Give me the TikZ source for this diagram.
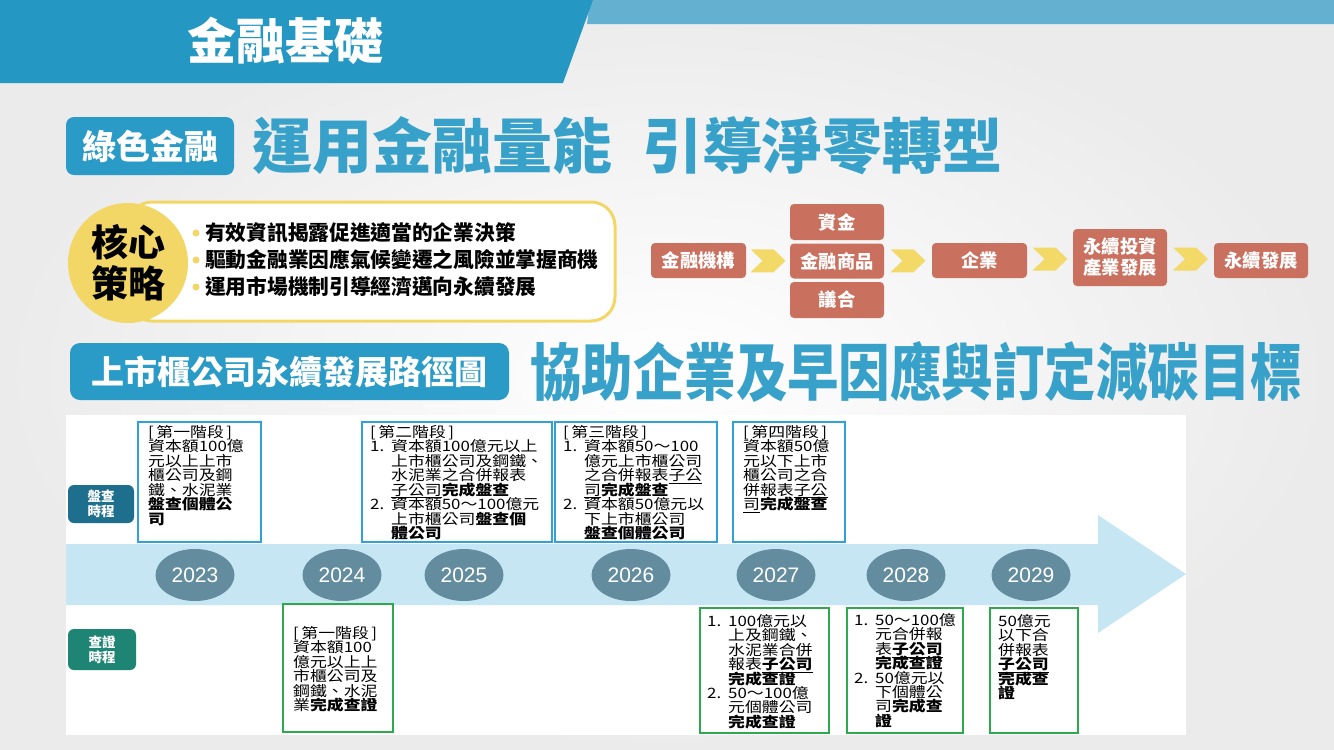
\documentclass[tikz,border=0pt]{standalone}
\usepackage{fontspec}
\usepackage{graphicx}
\usetikzlibrary{shapes.geometric,calc}
\setmainfont{Noto Sans CJK TC}
\newfontfamily\cjk{Noto Sans CJK TC}
\newfontfamily\cjkn[FakeStretch=0.83]{Noto Sans CJK TC}
\newfontfamily\tlfont[FakeStretch=1.18]{Noto Sans CJK TC}
\newfontfamily\numfont{Liberation Sans}
\definecolor{hdrblue}{HTML}{2497C3}
\definecolor{hdrlight}{HTML}{64B0D1}
\definecolor{tagblue}{HTML}{2A9AC6}
\definecolor{titleblue}{HTML}{38A1CA}
\definecolor{ylw}{HTML}{F2D766}
\definecolor{salmon}{HTML}{C9705F}
\definecolor{chev}{HTML}{F2D968}
\definecolor{band}{HTML}{C7E6F3}
\definecolor{yearc}{HTML}{638D9F}
\definecolor{stblue}{HTML}{2EA2D9}
\definecolor{stgreen}{HTML}{2FA94E}
\definecolor{labA}{HTML}{1E6E8E}
\definecolor{labB}{HTML}{1E8473}
\definecolor{bgc}{HTML}{EBEBEB}
\newcommand{\itm}[1]{\makebox[21pt][l]{#1}}
\newcommand{\ind}{\hspace*{21pt}}
\newcommand{\stg}[1]{[\hspace{2.5pt}#1\hspace{2.5pt}]}
\tikzset{
  flowbox/.style={fill=salmon, rounded corners=4pt, minimum width=95pt, minimum height=35pt, inner sep=0pt,
    text=white, align=center, font=\cjk\bfseries\fontsize{18.3}{21}\selectfont},
  chevshape/.style={fill=chev},
  yearnode/.style={ellipse, fill=yearc, minimum width=79pt, minimum height=52pt, inner sep=0pt,
    text=white, font=\numfont\fontsize{21}{21}\selectfont},
  stagebox/.style={draw=stblue, line width=2.5pt, fill=white, inner sep=0pt},
  checkbox/.style={draw=stgreen, line width=2.5pt, fill=white, inner sep=0pt},
  tltext/.style={anchor=north west, inner sep=0pt, align=left, text=black,
    font={\tlfont\fontsize{14.3}{14.45}\selectfont\lineskiplimit=-20pt\lineskip=0pt}},
  labbox/.style={rounded corners=6pt, inner sep=0pt, text=white, align=center,
    font=\cjk\bfseries\fontsize{13.5}{15}\selectfont},
  bullettext/.style={anchor=west, inner sep=0pt, font=\cjk\bfseries\fontsize{20.7}{22}\selectfont}
}
\begin{document}
\begin{tikzpicture}[x=1pt,y=-1pt]
\useasboundingbox (0,0) rectangle (1334,750);
% background
\shade[inner color=white, outer color=bgc] (0,0) rectangle (1334,750);
% header
\fill[hdrlight] (590,0) -- (1334,0) -- (1334,24) -- (587,24) -- cycle;
\fill[hdrblue] (0,0) -- (593,0) -- (563,83) -- (0,83) -- cycle;
\node[text=white, font=\cjk\bfseries\fontsize{49}{49}\selectfont, inner sep=0pt] (hdr) at (285,41) {金融基礎};
% green finance tag and title
\node[fill=tagblue, rounded corners=8pt, minimum width=168pt, minimum height=58pt, inner sep=0pt,
  text=white, font=\cjk\bfseries\fontsize{34}{34}\selectfont] (tag1) at (150,146) {綠色金融};
\node[anchor=west, inner sep=0pt, text=titleblue, font=\cjk\bfseries\fontsize{60}{60}\selectfont] (title1) at (252,146) {運用金融量能\hspace{30pt}引導淨零轉型};
% core strategy
\draw[draw=ylw, line width=3pt, fill=white, rounded corners=24pt] (128,202) rectangle (615,321);
\node[circle, fill=ylw, minimum size=120pt, inner sep=0pt, align=center,
  font=\cjk\bfseries\fontsize{37}{41}\selectfont] (core) at (128,263) {核心\\策略};
\fill[ylw] (196,233) circle (3.5pt);
\fill[ylw] (196,260) circle (3.5pt);
\fill[ylw] (196,287) circle (3.5pt);
\node[bullettext] (b1) at (205,233) {有效資訊揭露促進適當的企業決策};
\node[bullettext] (b2) at (205,260) {驅動金融業因應氣候變遷之風險並掌握商機};
\node[bullettext] (b3) at (205,287) {運用市場機制引導經濟邁向永續發展};
% flow
\node[flowbox] (f1) at (698.5,260.5) {金融機構};
\node[flowbox, minimum width=94pt, minimum height=36pt] (f2a) at (837,222) {資金};
\node[flowbox, minimum width=94pt] (f2) at (837,261) {金融商品};
\node[flowbox, minimum width=94pt, minimum height=36pt] (f2b) at (837,300) {議合};
\node[flowbox] (f3) at (979.5,260.5) {企業};
\node[flowbox, minimum width=94pt, minimum height=57pt] (f4) at (1120,257.5) {永續投資\\產業發展};
\node[flowbox, minimum width=94pt] (f5) at (1261,260.5) {永續發展};
\foreach \a/\b in {f1/f2, f2/f3, f3/f4, f4/f5}{
  \fill[chevshape] ($(\a.east)!0.5!(\b.west)$) ++(-17.5,-11.5) -- ++(23,0) -- ++(12,11.5) -- ++(-12,11.5) -- ++(-23,0) -- ++(12,-11.5) -- cycle;
}
% roadmap tag and title
\node[fill=tagblue, rounded corners=10pt, minimum width=439pt, minimum height=57pt, inner sep=0pt,
  text=white, font=\cjk\bfseries\fontsize{33}{33}\selectfont] (tag2) at (289.5,371.5) {上市櫃公司永續發展路徑圖};
\node[anchor=west, inner sep=0pt, text=titleblue, font=\cjkn\bfseries\fontsize{62}{62}\selectfont] (title2) at (530,372) {協助企業及早因應與訂定減碳目標};
% timeline panel
\fill[white] (66,415) rectangle (1186,735);
\fill[band] (66,544) -- (1098,544) -- (1098,515) -- (1186,574) -- (1098,633) -- (1098,605) -- (66,605) -- cycle;
% labels
\node[labbox, fill=labA, minimum width=66pt, minimum height=38pt] (lp) at (101,504) {盤查\\時程};
\node[labbox, fill=labB, minimum width=68pt, minimum height=41pt] (lv) at (102,649.5) {查證\\時程};
% years
\node[yearnode] (y23) at (195,575) {2023};
\node[yearnode] (y24) at (342,575) {2024};
\node[yearnode] (y25) at (464,575) {2025};
\node[yearnode] (y26) at (631,575) {2026};
\node[yearnode] (y27) at (776,575) {2027};
\node[yearnode] (y28) at (906,575) {2028};
\node[yearnode] (y29) at (1031,575) {2029};
% inventory stage boxes
\node[stagebox, minimum width=123pt, minimum height=120pt] (s1) at (199.5,482) {};
\node[stagebox, minimum width=190pt, minimum height=120pt] (s2) at (457,482) {};
\node[stagebox, minimum width=162pt, minimum height=120pt] (s3) at (636,482) {};
\node[stagebox, minimum width=112pt, minimum height=120pt] (s4) at (789,482) {};
\node[tltext] (t1) at (148,425) {\stg{第一階段}\\資本額100億\\元以上上市\\櫃公司及鋼\\鐵、水泥業\\\textbf{盤查個體公}\\\textbf{司}};
\node[tltext] (t2) at (370,425) {\stg{第二階段}\\\itm{1.}資本額100億元以上\\\ind 上市櫃公司及鋼鐵、\\\ind 水泥業之合併報表\\\ind \underline{子公司}\textbf{完成盤查}\\\itm{2.}資本額50～100億元\\\ind 上市櫃公司\textbf{盤查個}\\\ind \textbf{體公司}};
\node[tltext] (t3) at (563,425) {\stg{第三階段}\\\itm{1.}資本額50～100\\\ind 億元上市櫃公司\\\ind 之合併報表\underline{子公}\\\ind \underline{司}\textbf{完成盤查}\\\itm{2.}資本額50億元以\\\ind 下上市櫃公司\\\ind \textbf{盤查個體公司}};
\node[tltext] (t4) at (743,425) {\stg{第四階段}\\資本額50億\\元以下上市\\櫃公司之合\\併報表\underline{子公}\\\underline{司}\textbf{完成盤查}};
% verification boxes
\node[checkbox, minimum width=110pt, minimum height=128pt] (v1) at (338,668) {};
\node[checkbox, minimum width=129pt, minimum height=125pt] (v2) at (764.5,670.5) {};
\node[checkbox, minimum width=116pt, minimum height=125pt] (v3) at (905,670.5) {};
\node[checkbox, minimum width=88pt, minimum height=125pt] (v4) at (1034,670.5) {};
\node[tltext] (u1) at (293,626) {\stg{第一階段}\\資本額100\\億元以上上\\市櫃公司及\\鋼鐵、水泥\\業\textbf{完成查證}};
\node[tltext] (u2) at (707,614) {\itm{1.}100億元以\\\ind 上及鋼鐵、\\\ind 水泥業合併\\\ind 報表\underline{\textbf{子公司}}\\\ind \textbf{完成查證}\\\itm{2.}50～100億\\\ind 元個體公司\\\ind \textbf{完成查證}};
\node[tltext] (u3) at (854,613) {\itm{1.}50～100億\\\ind 元合併報\\\ind 表\underline{\textbf{子公司}}\\\ind \textbf{完成查證}\\\itm{2.}50億元以\\\ind 下個體公\\\ind 司\textbf{完成查}\\\ind \textbf{證}};
\node[tltext] (u4) at (998,614) {50億元\\以下合\\併報表\\\underline{\textbf{子公司}}\\\textbf{完成查}\\\textbf{證}};
\end{tikzpicture}
\end{document}
